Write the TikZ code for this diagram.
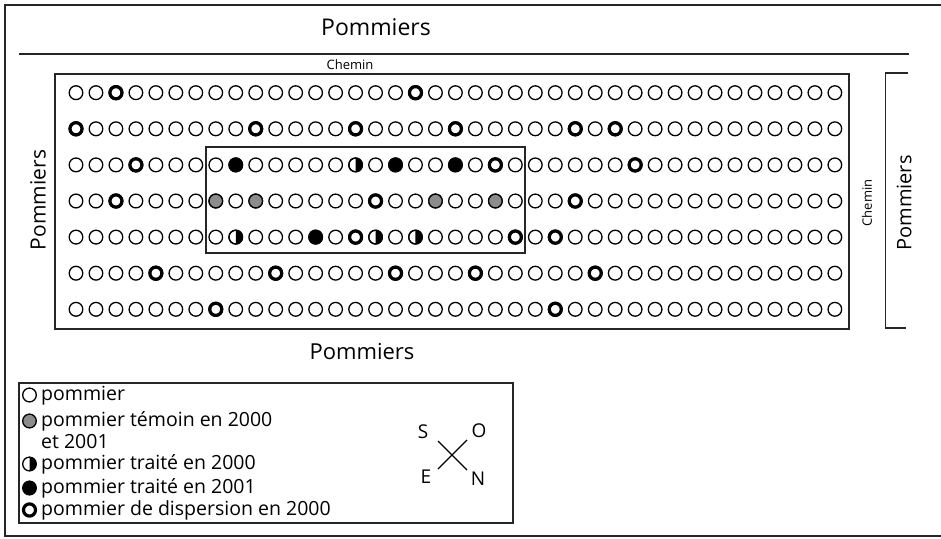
\documentclass[tikz,border=0pt]{standalone}
\usepackage{fontspec}
\setmainfont{Open Sans}
\begin{document}
\begin{tikzpicture}[x=1pt,y=-1pt,
  frame/.style={line width=1.2pt,draw=black!85},
  box/.style={line width=1.4pt,draw=black!85},
  tree/.style={line width=1.3pt,draw=black,fill=white},
  dispersion/.style={line width=3.2pt,draw=black,fill=white},
  temoin/.style={line width=1.3pt,draw=black,fill=black!45},
  traite/.style={line width=1.3pt,draw=black,fill=black},
  big/.style={font=\fontsize{23}{23}\selectfont,inner sep=0pt},
  small/.style={font=\fontsize{13}{13}\selectfont,inner sep=0pt},
  leg/.style={font=\fontsize{19.5}{20}\selectfont,inner sep=0pt,anchor=base west},
  comp/.style={font=\fontsize{19}{19}\selectfont,inner sep=0pt}]
\useasboundingbox (0,0) rectangle (941,538);
% outer frame
\draw[frame] (941,5) -- (5,5) -- (5,536) -- (941,536);
% top label and path line
\node[big] (ptop) at (376,27) {Pommiers};
\draw[box] (19,54) -- (909,54);
\node[small] (chtop) at (350,65) {Chemin};
% main field
\draw[box] (55,74) rectangle (849,329);
\draw[box] (206,147) rectangle (525,253);
% plain trees
\foreach \r in {1,...,7}
  \foreach \c in {0,...,38}
    \draw[tree] ({76+19.97*\c},{92.7+36.1*(\r-1)}) ellipse [x radius=6.8, y radius=6.9];
% dispersion trees
\foreach \r/\c in {1/2,1/17,2/0,2/9,2/14,2/19,2/25,2/27,3/3,3/21,3/28,4/2,4/15,4/25,5/14,5/22,5/24,6/4,6/10,6/16,6/20,6/26,7/7,7/24}
    \draw[dispersion] ({76+19.97*\c},{92.7+36.1*(\r-1)}) ellipse [x radius=6.0, y radius=6.1];
% temoin trees
\foreach \r/\c in {4/7,4/9,4/18,4/21}
    \draw[temoin] ({76+19.97*\c},{92.7+36.1*(\r-1)}) ellipse [x radius=6.8, y radius=6.9];
% treated 2001
\foreach \r/\c in {3/8,3/16,3/19,5/12}
    \draw[traite] ({76+19.97*\c},{92.7+36.1*(\r-1)}) ellipse [x radius=6.8, y radius=6.9];
% treated 2000 (half)
\foreach \r/\c in {3/14,5/8,5/15,5/17}{
    \fill[black] ({76+19.97*\c},{92.7+36.1*(\r-1)-6.9}) arc[start angle=-90,end angle=90,x radius=6.8,y radius=6.9] -- cycle;
    \draw[line width=1.3pt] ({76+19.97*\c},{92.7+36.1*(\r-1)}) ellipse [x radius=6.8, y radius=6.9];
}
% side labels
\node[big,rotate=90,font=\fontsize{21}{21}\selectfont] (pleft) at (38,200) {Pommiers};
\node[small,rotate=90] (chright) at (867,203) {Chemin};
\draw[box] (908,73) -- (885.5,73) -- (885.5,328) -- (906,328);
\node[big,rotate=90,font=\fontsize{20}{20}\selectfont] (pright) at (904,203) {Pommiers};
\node[big,font=\fontsize{22}{22}\selectfont] (pbot) at (362,352) {Pommiers};
% legend
\draw[box] (19,383) rectangle (513,523);
\draw[tree] (29.5,395) ellipse [x radius=6.8, y radius=6.9];
\node[leg] (l1) at (41,400) {pommier};
\draw[temoin] (29.5,421) ellipse [x radius=6.8, y radius=6.9];
\node[leg] (l2) at (41,426) {pommier témoin en 2000};
\node[leg] (l2b) at (41,448) {et 2001};
\fill[black] (29.5,457.1) arc[start angle=-90,end angle=90,x radius=6.8,y radius=6.9] -- cycle;
\draw[line width=1.3pt] (29.5,464) ellipse [x radius=6.8, y radius=6.9];
\node[leg] (l3) at (41,469) {pommier traité en 2000};
\draw[traite] (29.5,488) ellipse [x radius=6.8, y radius=6.9];
\node[leg] (l4) at (41,493) {pommier traité en 2001};
\draw[dispersion] (29.5,510) ellipse [x radius=6.0, y radius=6.1];
\node[leg] (l5) at (41,515) {pommier de dispersion en 2000};
% compass
\coordinate (c1) at (438,441);
\coordinate (c2) at (467,470);
\coordinate (c3) at (438,469);
\coordinate (c4) at (467,440);
\draw[line width=1.1pt] (c1) -- (c2);
\draw[line width=1.1pt] (c3) -- (c4);
\node[comp] (cs) at (423,432) {S};
\node[comp] (co) at (479,431) {O};
\node[comp] (ce) at (426,477) {E};
\node[comp] (cn) at (478,479) {N};
\end{tikzpicture}
\end{document}
